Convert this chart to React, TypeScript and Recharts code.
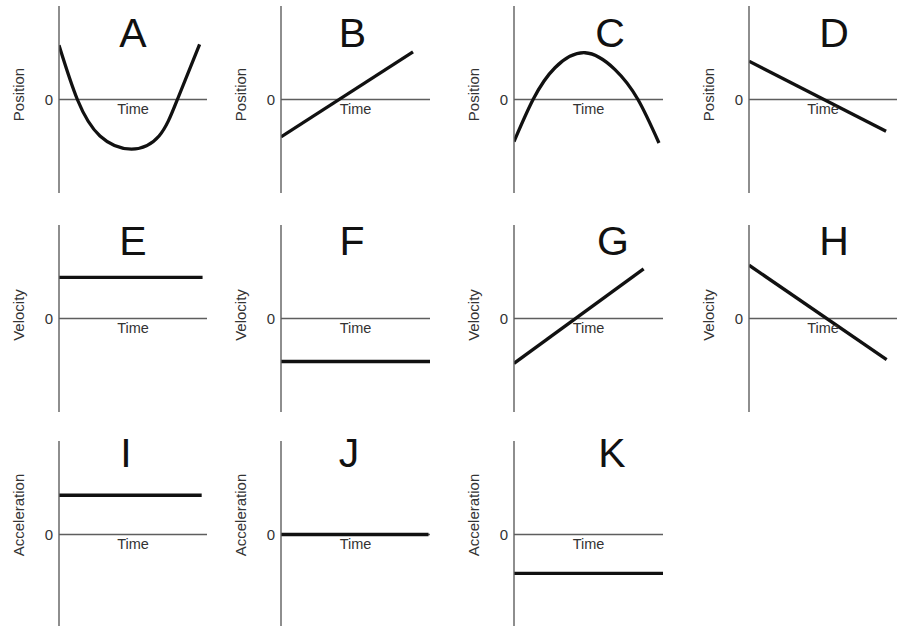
import React from 'react';
import { LineChart, Line, XAxis, YAxis, ReferenceLine, Label } from 'recharts';

// ---- text ----
const panelTitles = ['A', 'B', 'C', 'D', 'E', 'F', 'G', 'H', 'I', 'J', 'K'];
const quantityLabels = [
  'Position', 'Position', 'Position', 'Position',
  'Velocity', 'Velocity', 'Velocity', 'Velocity',
  'Acceleration', 'Acceleration', 'Acceleration',
];
const timeLabel = 'Time';
const zeroTick = [0];

// ---- series (time, value); axes span t 0..10, value -10..10 ----
const tA = [0, 1.24, 2.77, 4.9, 6.76, 8.0, 9.5];
const vA = [5.8, 0, -3.9, -5.3, -3.9, 0, 5.9];
const tB = [0, 8.86];
const vB = [-4.0, 5.1];
const tC = [0, 1.28, 2.75, 4.77, 6.78, 8.32, 9.73];
const vC = [-4.5, 0, 3.4, 5.0, 3.2, 0, -4.65];
const tD = [0, 9.26];
const vD = [4.1, -3.4];
const tE = [0, 9.7];
const vE = [4.4, 4.4];
const tF = [0, 10];
const vF = [-4.6, -4.6];
const tG = [0, 8.7];
const vG = [-4.8, 5.3];
const tH = [0, 9.3];
const vH = [5.7, -4.4];
const tI = [0, 9.64];
const vI = [4.2, 4.2];
const tJ = [0, 9.9];
const vJ = [0, 0];
const tK = [0, 10];
const vK = [-4.15, -4.15];

const TIMES = [tA, tB, tC, tD, tE, tF, tG, tH, tI, tJ, tK];
const VALUES = [vA, vB, vC, vD, vE, vF, vG, vH, vI, vJ, vK];

// ---- layout (positions/styles only) ----
const PLOT_H = 187;
const ML = 60;
const MT = 20;
const MB = 20;
const MR = 10;
const AXIS = '#5e5e5e';
const TEXT = '#333333';
const INK = '#111111';

type Layout = {
  axisX: number;
  plotW: number;
  plotTop: number;
  titleDx: number;
  titleOffset: number;
  labelDy: number;
  curve: 'natural' | 'linear';
};

const LAYOUT: Layout[] = [
  { axisX: 59, plotW: 148, plotTop: 6, titleDx: 0, titleOffset: 53, labelDy: -5, curve: 'natural' },
  { axisX: 281, plotW: 149, plotTop: 6, titleDx: -3, titleOffset: 53, labelDy: -5, curve: 'linear' },
  { axisX: 514, plotW: 149, plotTop: 6, titleDx: 21.5, titleOffset: 53, labelDy: -5, curve: 'natural' },
  { axisX: 749, plotW: 148, plotTop: 6, titleDx: 11, titleOffset: 53, labelDy: -5, curve: 'linear' },
  { axisX: 59, plotW: 148, plotTop: 225, titleDx: 0, titleOffset: 63.5, labelDy: -3.5, curve: 'linear' },
  { axisX: 281, plotW: 149, plotTop: 225, titleDx: -3.5, titleOffset: 63.5, labelDy: -3.5, curve: 'linear' },
  { axisX: 514, plotW: 149, plotTop: 225, titleDx: 24.5, titleOffset: 63.5, labelDy: -3.5, curve: 'linear' },
  { axisX: 749, plotW: 148, plotTop: 225, titleDx: 11, titleOffset: 63.5, labelDy: -3.5, curve: 'linear' },
  { axisX: 59, plotW: 148, plotTop: 441, titleDx: -7, titleOffset: 67.5, labelDy: -19.5, curve: 'linear' },
  { axisX: 281, plotW: 149, plotTop: 441, titleDx: -6.5, titleOffset: 67.5, labelDy: -19.5, curve: 'linear' },
  { axisX: 514, plotW: 149, plotTop: 441, titleDx: 23.5, titleOffset: 67.5, labelDy: -19.5, curve: 'linear' },
];

function Panel({ idx }: { idx: number }) {
  const L = LAYOUT[idx];
  const data = TIMES[idx].map((t, i) => ({ t, v: VALUES[idx][i] }));
  return (
    <div style={{ position: 'absolute', left: L.axisX - ML, top: L.plotTop - MT }}>
      <LineChart
        width={ML + L.plotW + MR}
        height={MT + PLOT_H + MB}
        data={data}
        margin={{ top: MT, right: MR, bottom: MB, left: 0 }}
      >
        <XAxis type="number" dataKey="t" domain={[0, 10]} hide allowDataOverflow />
        <YAxis
          type="number"
          domain={[-10, 10]}
          ticks={zeroTick}
          interval={0}
          width={ML}
          allowDataOverflow
          axisLine={{ stroke: AXIS, strokeWidth: 1.4 }}
          tickLine={false}
          tickSize={4}
          tickMargin={2}
          tick={{ fontSize: 15, fill: TEXT }}
        >
          <Label
            value={quantityLabels[idx]}
            position="center"
            angle={-90}
            dx={-10}
            dy={L.labelDy}
            fontSize={15}
            fill={TEXT}
          />
        </YAxis>
        <ReferenceLine y={0} stroke={AXIS} strokeWidth={1.4}>
          <Label value={timeLabel} position="bottom" offset={4.5} fontSize={14.5} fill={TEXT} />
          <Label
            value={panelTitles[idx]}
            position="top"
            offset={L.titleOffset}
            dx={L.titleDx}
            fontSize={41}
            fill={INK}
          />
        </ReferenceLine>
        <Line
          type={L.curve}
          dataKey="v"
          stroke={INK}
          strokeWidth={3.3}
          dot={false}
          activeDot={false}
          isAnimationActive={false}
        />
      </LineChart>
    </div>
  );
}

export default function App() {
  return (
    <div
      style={{
        position: 'absolute',
        left: 0,
        top: 0,
        width: 903,
        height: 626,
        overflow: 'hidden',
        background: '#ffffff',
        fontFamily: 'Arial, "Liberation Sans", Helvetica, sans-serif',
      }}
    >
      {panelTitles.map((_, i) => (
        <Panel key={i} idx={i} />
      ))}
    </div>
  );
}
